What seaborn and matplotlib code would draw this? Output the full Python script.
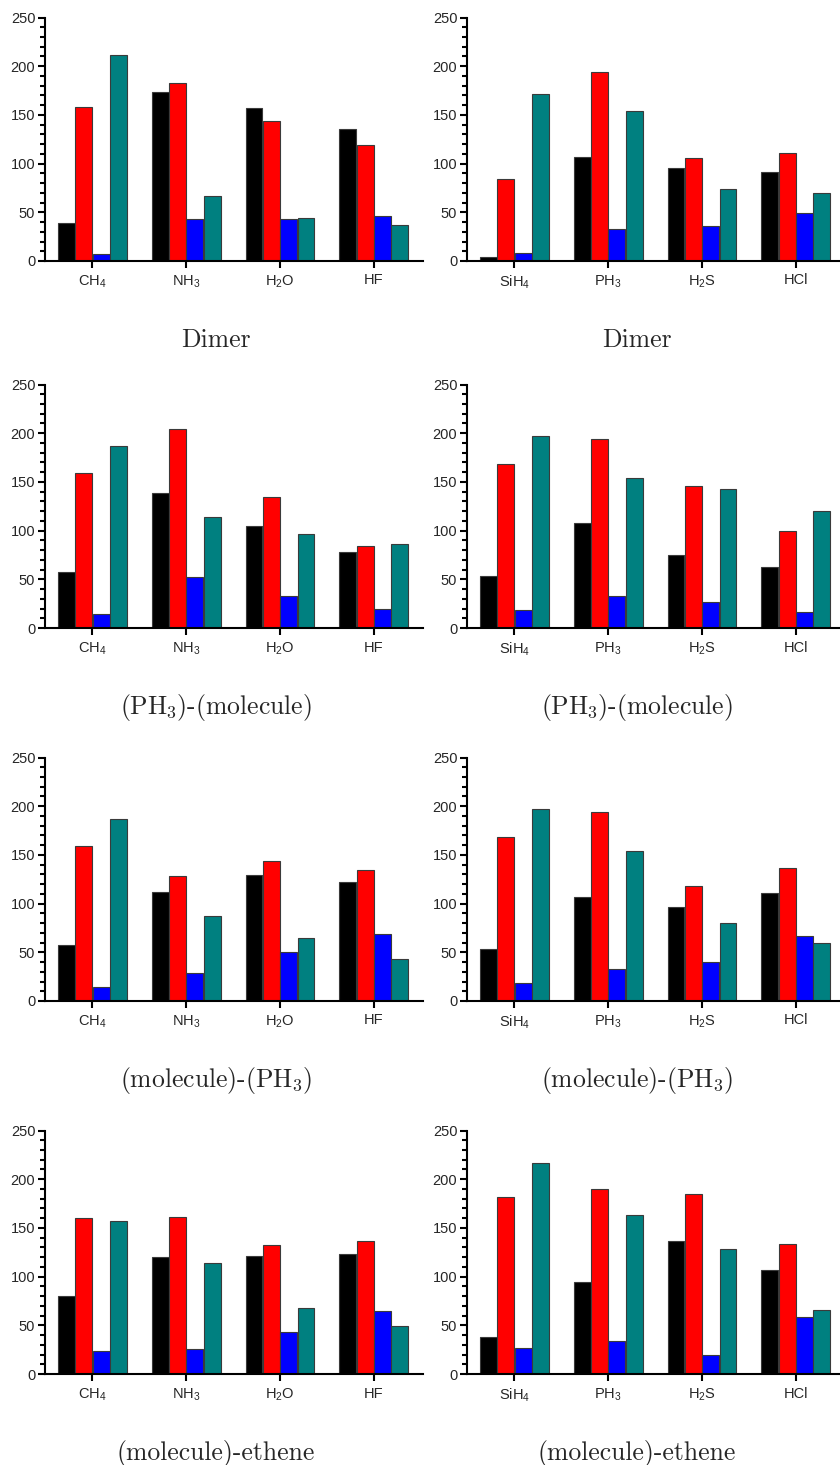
import numpy as np
import pandas as pd
import matplotlib
matplotlib.use("Agg")
import matplotlib.pyplot as plt
import seaborn as sns
from matplotlib.ticker import MultipleLocator

# ---------------- data ----------------
series_names = ["black", "red", "blue", "teal"]
series_colors = ["#000000", "#ff0000", "#0000ff", "#008080"]

cats_left = ["CH4", "NH3", "H2O", "HF"]
cats_right = ["SiH4", "PH3", "H2S", "HCl"]
labels_left = [r"CH$_\mathregular{4}$", r"NH$_\mathregular{3}$", r"H$_\mathregular{2}$O", "HF"]
labels_right = [r"SiH$_\mathregular{4}$", r"PH$_\mathregular{3}$", r"H$_\mathregular{2}$S", "HCl"]

panel_titles = ["Dimer",
                r"(PH$_\mathregular{3}$)-(molecule)",
                r"(molecule)-(PH$_\mathregular{3}$)",
                "(molecule)-ethene"]

# Dimer
dimer_left_black = [39, 173, 157, 136]
dimer_left_red = [158, 183, 144, 119]
dimer_left_blue = [7, 43, 43, 46]
dimer_left_teal = [212, 67, 44, 37]
dimer_right_black = [4, 107, 95, 91]
dimer_right_red = [84, 194, 106, 111]
dimer_right_blue = [8, 33, 36, 49]
dimer_right_teal = [171, 154, 74, 70]

# (PH3)-(molecule)
ph3mol_left_black = [58, 139, 105, 78]
ph3mol_left_red = [159, 204, 134, 84]
ph3mol_left_blue = [14, 52, 33, 19]
ph3mol_left_teal = [187, 114, 97, 86]
ph3mol_right_black = [53, 108, 75, 63]
ph3mol_right_red = [168, 194, 146, 100]
ph3mol_right_blue = [18, 33, 27, 16]
ph3mol_right_teal = [197, 154, 143, 120]

# (molecule)-(PH3)
molph3_left_black = [58, 112, 129, 122]
molph3_left_red = [159, 128, 144, 134]
molph3_left_blue = [14, 29, 50, 69]
molph3_left_teal = [187, 87, 65, 43]
molph3_right_black = [53, 107, 97, 111]
molph3_right_red = [168, 194, 118, 137]
molph3_right_blue = [18, 33, 40, 67]
molph3_right_teal = [197, 154, 80, 60]

# (molecule)-ethene
eth_left_black = [80, 120, 121, 123]
eth_left_red = [160, 161, 132, 137]
eth_left_blue = [24, 26, 43, 65]
eth_left_teal = [157, 114, 68, 49]
eth_right_black = [38, 94, 137, 107]
eth_right_red = [182, 190, 185, 133]
eth_right_blue = [27, 34, 20, 59]
eth_right_teal = [217, 163, 128, 66]

panels = [
    [[dimer_left_black, dimer_left_red, dimer_left_blue, dimer_left_teal],
     [dimer_right_black, dimer_right_red, dimer_right_blue, dimer_right_teal]],
    [[ph3mol_left_black, ph3mol_left_red, ph3mol_left_blue, ph3mol_left_teal],
     [ph3mol_right_black, ph3mol_right_red, ph3mol_right_blue, ph3mol_right_teal]],
    [[molph3_left_black, molph3_left_red, molph3_left_blue, molph3_left_teal],
     [molph3_right_black, molph3_right_red, molph3_right_blue, molph3_right_teal]],
    [[eth_left_black, eth_left_red, eth_left_blue, eth_left_teal],
     [eth_right_black, eth_right_red, eth_right_blue, eth_right_teal]],
]

# ---------------- style ----------------
sns.set_style("ticks")
plt.rcParams["font.family"] = ["Liberation Sans", "DejaVu Sans"]

W, H = 840, 1465
fig = plt.figure(figsize=(W / 100, H / 100), dpi=100)

row_bottoms = [261, 628, 1001, 1374]   # pixel y of the zero line
col_lefts = [45, 467]
ax_w, ax_h = 377.6, 243.5
title_x = [216, 637]

for r in range(4):
    for c in range(2):
        cats = cats_left if c == 0 else cats_right
        labels = labels_left if c == 0 else labels_right
        rows = []
        for name, vals in zip(series_names, panels[r][c]):
            for cat, v in zip(cats, vals):
                rows.append({"category": cat, "series": name, "value": v})
        df = pd.DataFrame(rows)

        ax = fig.add_axes([col_lefts[c] / W, 1 - row_bottoms[r] / H, ax_w / W, ax_h / H])
        sns.barplot(data=df, x="category", y="value", hue="series",
                    order=cats, hue_order=series_names, palette=series_colors,
                    width=0.74, gap=0.025, saturation=1, edgecolor="#3a3a3a",
                    linewidth=0.8, legend=False, errorbar=None, ax=ax)
        ax.set_xlim(-0.505, 3.52)
        ax.set_ylim(0, 250)
        ax.set_xticks(range(4))
        ax.set_xticklabels(labels)
        ax.yaxis.set_major_locator(MultipleLocator(50))
        ax.yaxis.set_minor_locator(MultipleLocator(10))
        ax.tick_params(axis="both", which="major", length=5, width=1.5,
                       labelsize=10.5, pad=2, color="black")
        ax.tick_params(axis="y", which="minor", length=3.5, width=1.5, color="black")
        ax.tick_params(axis="x", pad=4)
        for s in ["top", "right"]:
            ax.spines[s].set_visible(False)
        for s in ["left", "bottom"]:
            ax.spines[s].set_linewidth(1.5)
            ax.spines[s].set_color("black")
        ax.set_xlabel("")
        ax.set_ylabel("")
        ax.set_facecolor("white")

        fig.text(title_x[c] / W, 1 - (row_bottoms[r] + 86) / H, panel_titles[r],
                 fontfamily="cmr10", fontsize=18.5, ha="center", va="baseline")

fig.savefig("out.png", dpi=100, facecolor="white")
